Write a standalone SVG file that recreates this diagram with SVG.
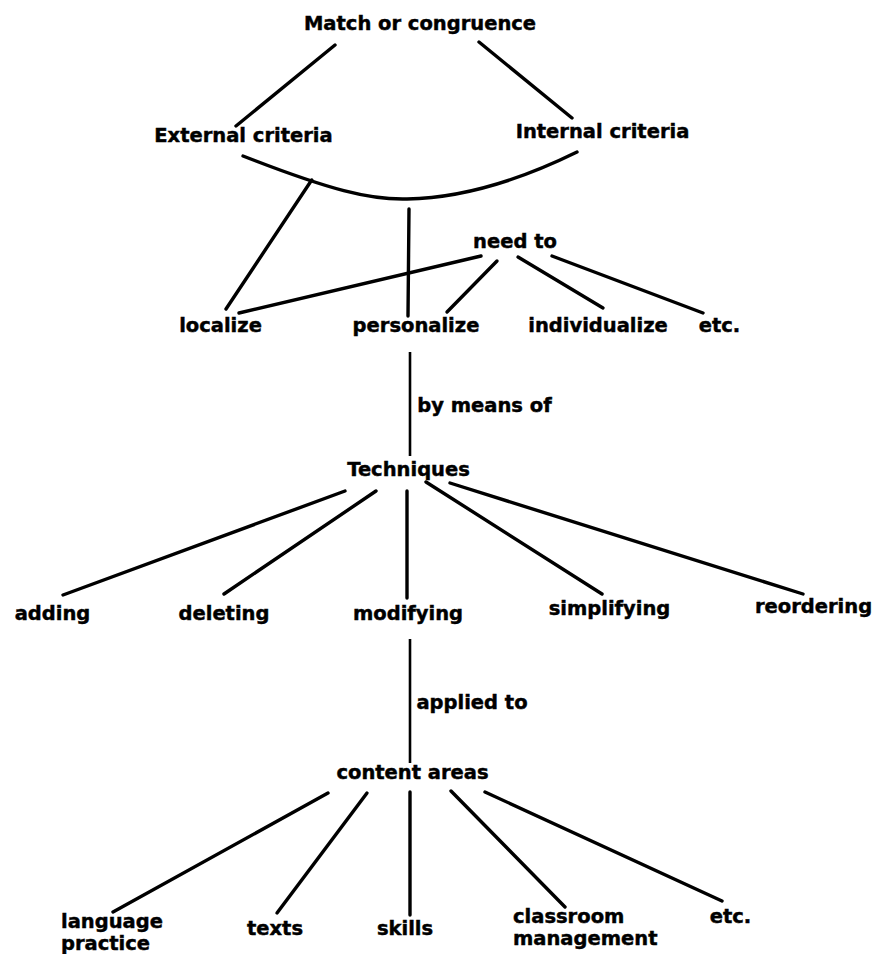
<svg xmlns="http://www.w3.org/2000/svg" width="876" height="954" viewBox="0 0 876 954">
  <style>
    text { font-family: "DejaVu Sans", "Liberation Sans", sans-serif; font-weight: bold; font-size: 19.5px; fill: #000; stroke: #000; stroke-width: 0.45; text-anchor: middle; }
    text.l { text-anchor: start; }
    .c { stroke: #000; stroke-width: 3.4; stroke-linecap: round; fill: none; }
    .v { stroke: #000; stroke-width: 2.6; stroke-linecap: butt; fill: none; }
  </style>
  <rect width="876" height="954" fill="#fff"/>
  <g id="connectors">
    <line class="c" x1="335" y1="45" x2="236" y2="126"/>
    <line class="c" x1="479" y1="42" x2="572" y2="118"/>
    <path class="c" d="M243,156 C330,190 370,200 407,199 C460,198 520,180 577,152"/>
    <line class="c" x1="311.7" y1="180" x2="226" y2="309"/>
    <line class="c" x1="409" y1="209" x2="408" y2="316"/>
    <line class="c" x1="481" y1="256" x2="239" y2="313"/>
    <line class="c" x1="497" y1="261" x2="447" y2="312"/>
    <line class="c" x1="518" y1="257" x2="603" y2="308"/>
    <line class="c" x1="552" y1="256" x2="703" y2="313"/>
    <line class="v" x1="410" y1="352" x2="410" y2="456"/>
    <line class="c" x1="345" y1="491" x2="63" y2="595"/>
    <line class="c" x1="376" y1="491" x2="224" y2="594"/>
    <line class="c" x1="407" y1="491" x2="407" y2="598"/>
    <line class="c" x1="426" y1="482" x2="602" y2="594"/>
    <line class="c" x1="450" y1="483" x2="803" y2="594"/>
    <line class="v" x1="410" y1="639" x2="410" y2="763"/>
    <line class="c" x1="328" y1="793" x2="113" y2="912"/>
    <line class="c" x1="367" y1="793" x2="277" y2="913"/>
    <line class="c" x1="410" y1="792" x2="410" y2="915"/>
    <line class="c" x1="451" y1="791" x2="565" y2="907"/>
    <line class="c" x1="485" y1="792" x2="722" y2="901"/>
  </g>
  <g id="match"><text x="420" y="30">Match or congruence</text></g>
  <g id="external"><text x="243.5" y="142">External criteria</text></g>
  <g id="internal"><text x="602.5" y="138">Internal criteria</text></g>
  <g id="needto"><text x="515" y="248">need to</text></g>
  <g id="localize"><text x="220.5" y="332">localize</text></g>
  <g id="personalize"><text x="416" y="332">personalize</text></g>
  <g id="individualize"><text x="598" y="332">individualize</text></g>
  <g id="etc1"><text x="719.5" y="332">etc.</text></g>
  <g id="bymeansof"><text x="484.5" y="412">by means of</text></g>
  <g id="techniques"><text x="408.5" y="476">Techniques</text></g>
  <g id="adding"><text x="52.5" y="620">adding</text></g>
  <g id="deleting"><text x="224" y="620">deleting</text></g>
  <g id="modifying"><text x="408" y="620">modifying</text></g>
  <g id="simplifying"><text x="609.5" y="615">simplifying</text></g>
  <g id="reordering"><text x="813.5" y="613">reordering</text></g>
  <g id="appliedto"><text x="472" y="709">applied to</text></g>
  <g id="contentareas"><text x="412.5" y="779">content areas</text></g>
  <g id="languagepractice"><text class="l" x="61" y="928">language</text><text class="l" x="61" y="950">practice</text></g>
  <g id="texts"><text x="275" y="935">texts</text></g>
  <g id="skills"><text x="405" y="935">skills</text></g>
  <g id="classroom"><text class="l" x="513" y="923">classroom</text><text class="l" x="513" y="945">management</text></g>
  <g id="etc2"><text x="730.5" y="923">etc.</text></g>
</svg>
